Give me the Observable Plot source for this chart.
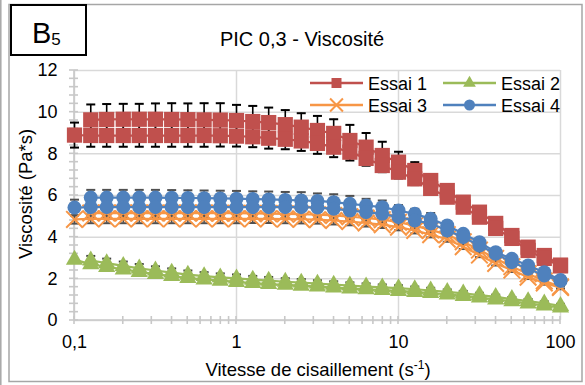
<!DOCTYPE html>
<html><head><meta charset="utf-8">
<script src="https://cdn.jsdelivr.net/npm/d3@7"></script>
<script src="https://cdn.jsdelivr.net/npm/@observablehq/plot@0.6"></script>
<style>
body{margin:0;background:#fff;}
#chart{width:585px;height:385px;}
svg text{font-family:"Liberation Sans",Arial,sans-serif;}
</style>
</head><body><div id="chart"></div>
<script>
// Shear rates (s^-1)
const shearRates = [0.1, 0.126, 0.158, 0.2, 0.251, 0.316, 0.398, 0.501, 0.631, 0.794, 1, 1.26, 1.58, 2, 2.51, 3.16, 3.98, 5.01, 6.31, 7.94, 10, 12.6, 15.8, 20, 25.1, 31.6, 39.8, 50.1, 63.1, 79.4, 100];

// Essai 1 (two interleaved rows)
const essai1Haut = [null, 9.63, 9.65, 9.66, 9.66, 9.66, 9.65, 9.64, 9.63, 9.62, 9.6, 9.55, 9.5, 9.4, 9.28, 9.12, 8.98, 8.64, 8.32, 7.92, 7.6, 7.2, 6.72, 6.24, 5.68, 5.2, 4.66, 4.08, 3.52, 3.12, 2.66];
const essai1Bas  = [8.9, 8.88, 8.88, 8.88, 8.88, 8.88, 8.88, 8.88, 8.88, 8.87, 8.85, 8.82, 8.75, 8.7, 8.62, 8.5, 8.32, 8.08, 7.78, 7.44, 7.12, 6.8, 6.34, 5.92, 5.44, 4.96, 4.42, 3.94, 3.36, 2.98, 2.62];
const err1Haut   = [0, 0.74, 0.74, 0.74, 0.74, 0.76, 0.78, 0.78, 0.8, 0.81, 0.75, 0.75, 0.72, 0.7, 0.67, 0.7, 0.68, 0.75, 0.68, 0.66, 0.5, 0.4, 0.3, 0.25, 0.22, 0.2, 0.18, 0.16, 0.14, 0.12, 0.1];
const err1Bas    = [0.6, 0.54, 0.54, 0.54, 0.54, 0.54, 0.54, 0.54, 0.54, 0.52, 0.5, 0.5, 0.5, 0.48, 0.48, 0.5, 0.48, 0.4, 0.35, 0.32, 0.3, 0.3, 0.28, 0.25, 0.2, 0.18, 0.16, 0.14, 0.12, 0.1, 0.1];

// Essai 2
const essai2Haut = [null, 2.88, 2.75, 2.62, 2.5, 2.4, 2.3, 2.2, 2.13, 2.07, 2.02, 1.96, 1.91, 1.86, 1.82, 1.77, 1.72, 1.68, 1.63, 1.59, 1.55, 1.5, 1.44, 1.37, 1.3, 1.22, 1.13, 1.03, 0.93, 0.82, 0.7];
const essai2Bas  = [2.92, 2.7, 2.57, 2.45, 2.33, 2.23, 2.13, 2.04, 1.97, 1.91, 1.85, 1.8, 1.75, 1.71, 1.67, 1.63, 1.58, 1.54, 1.5, 1.46, 1.42, 1.37, 1.32, 1.25, 1.18, 1.1, 1.01, 0.92, 0.82, 0.72, 0.62];
const err2       = [0.22, 0.22, 0.22, 0.21, 0.21, 0.2, 0.2, 0.2, 0.19, 0.19, 0.19, 0.18, 0.18, 0.17, 0.17, 0.16, 0.16, 0.15, 0.15, 0.14, 0.14, 0.13, 0.13, 0.12, 0.12, 0.11, 0.11, 0.1, 0.1, 0.1, 0.1];

// Essai 3
const essai3Haut = [null, 5.16, 5.16, 5.16, 5.16, 5.16, 5.16, 5.16, 5.16, 5.15, 5.15, 5.14, 5.13, 5.12, 5.1, 5.08, 5.04, 4.98, 4.92, 4.84, 4.72, 4.55, 4.35, 4.12, 3.78, 3.38, 2.98, 2.58, 2.24, 1.9, 1.62];
const essai3Bas  = [4.85, 4.88, 4.88, 4.88, 4.88, 4.88, 4.88, 4.88, 4.88, 4.88, 4.88, 4.88, 4.88, 4.87, 4.86, 4.84, 4.8, 4.75, 4.68, 4.6, 4.48, 4.32, 4.12, 3.9, 3.54, 3.14, 2.74, 2.42, 2.08, 1.8, 1.58];
const err3       = [0.2, 0.21, 0.21, 0.21, 0.21, 0.21, 0.21, 0.21, 0.21, 0.21, 0.21, 0.2, 0.2, 0.2, 0.2, 0.19, 0.19, 0.18, 0.17, 0.16, 0.15, 0.14, 0.13, 0.12, 0.11, 0.1, 0.1, 0.09, 0.09, 0.08, 0.08];

// Essai 4
const essai4Haut = [null, 5.9, 5.9, 5.9, 5.9, 5.9, 5.89, 5.88, 5.87, 5.86, 5.85, 5.83, 5.81, 5.79, 5.76, 5.74, 5.68, 5.6, 5.52, 5.44, 5.28, 5.12, 4.88, 4.56, 4.16, 3.76, 3.28, 2.96, 2.64, 2.32, 1.94];
const essai4Bas  = [5.42, 5.44, 5.44, 5.44, 5.44, 5.44, 5.44, 5.44, 5.44, 5.44, 5.44, 5.44, 5.44, 5.44, 5.44, 5.42, 5.36, 5.28, 5.2, 5.12, 4.96, 4.8, 4.66, 4.32, 4.0, 3.6, 3.2, 2.8, 2.48, 2.16, 1.9];
const err4       = [0.38, 0.37, 0.37, 0.37, 0.37, 0.37, 0.37, 0.37, 0.37, 0.37, 0.37, 0.37, 0.38, 0.38, 0.4, 0.36, 0.38, 0.38, 0.32, 0.32, 0.26, 0.24, 0.28, 0.2, 0.15, 0.12, 0.1, 0.1, 0.08, 0.08, 0.08];

const seriesNames = ["Essai 1", "Essai 2", "Essai 3", "Essai 4"];
const seriesColors = ["#C0504D", "#9BBB59", "#F79646", "#4F81BD"];
const errColors = ["#000000", "#404040", "#505050", "#505050"];

const xTicks = [0.1, 1, 10, 100];
const xTickLabels = ["0,1", "1", "10", "100"];
const xMinorTicks = [0.2,0.3,0.4,0.5,0.6,0.7,0.8,0.9,2,3,4,5,6,7,8,9,20,30,40,50,60,70,80,90];
const yTicks = [0, 2, 4, 6, 8, 10, 12];

const titleText = "PIC 0,3 - Viscosité";
const xTitle = "Vitesse de cisaillement (s";
const xTitleSup = "-1";
const yTitle = "Viscosité (Pa*s)";

function rows(name, ys, errs, row) {
  return shearRates.map((x, i) => ({series: name, row, x, y: ys[i], e: errs ? errs[i] : 0}))
    .filter(d => d.y != null);
}
const d1h = rows("Essai 1", essai1Haut, err1Haut, "h"), d1b = rows("Essai 1", essai1Bas, err1Bas, "b");
const d2h = rows("Essai 2", essai2Haut, err2, "h"), d2b = rows("Essai 2", essai2Bas, null, "b");
const d3h = rows("Essai 3", essai3Haut, err3, "h"), d3b = rows("Essai 3", essai3Bas, err3, "b");
const d4h = rows("Essai 4", essai4Haut, err4, "h"), d4b = rows("Essai 4", essai4Bas, err4, "b");
const groups = [[d1h, d1b], [d2h, d2b], [d3h, d3b], [d4h, d4b]];

const capSymbol = {draw(ctx) { ctx.moveTo(-4.5, 0); ctx.lineTo(4.5, 0); }};

const errMarks = [];
groups.forEach((g, k) => {
  g.forEach(d => {
    const de = d.filter(v => v.e > 0);
    errMarks.push(Plot.ruleX(de, {x: "x", y1: v => v.y - v.e, y2: v => v.y + v.e, stroke: errColors[k], strokeWidth: 1.6}));
    errMarks.push(Plot.dot(de, {x: "x", y: v => v.y + v.e, symbol: capSymbol, stroke: errColors[k], fill: "none", strokeWidth: 2, r: 2}));
    errMarks.push(Plot.dot(de, {x: "x", y: v => v.y - v.e, symbol: capSymbol, stroke: errColors[k], fill: "none", strokeWidth: 2, r: 2}));
  });
});

const markerSpec = [
  {symbol: "square", r: 8.6, fill: seriesColors[0]},
  {symbol: "triangle", r: 6.4, fill: seriesColors[1]},
  {symbol: "times", r: 7.6, stroke: seriesColors[2], strokeWidth: 2},
  {symbol: "circle", r: 7, fill: seriesColors[3]}
];

const seriesMarks = [];
groups.forEach((g, k) => {
  g.forEach(d => {
    seriesMarks.push(Plot.line(d, {x: "x", y: "y", stroke: seriesColors[k], strokeWidth: 2.25}));
  });
  g.forEach(d => {
    const m = markerSpec[k];
    seriesMarks.push(Plot.dot(d, {x: "x", y: "y", symbol: m.symbol, r: m.r,
      fill: m.fill || "none", stroke: m.stroke || "none", strokeWidth: m.strokeWidth || 0}));
  });
});

const plot = Plot.plot({
  width: 585, height: 385,
  marginLeft: 74, marginRight: 25, marginTop: 70, marginBottom: 65,
  style: {fontFamily: "Liberation Sans, Arial, sans-serif", fontSize: "18px", color: "#000", background: "#fff"},
  x: {type: "log", domain: [0.1, 100], label: null},
  y: {domain: [0, 12], label: null},
  marks: [
    Plot.gridY(yTicks, {stroke: "#d9d9d9", strokeOpacity: 1, strokeWidth: 1.5}),
    Plot.gridX(xTicks, {stroke: "#d9d9d9", strokeOpacity: 1, strokeWidth: 1.5}),
    Plot.axisY(yTicks, {tickSize: 0, tickPadding: 17, fontSize: 18, label: null, tickFormat: d => String(d)}),
    Plot.axisX(xTicks, {tickSize: 0, tickPadding: 15, fontSize: 18, label: null, tickFormat: d => xTickLabels[xTicks.indexOf(d)]}),
    ...errMarks,
    ...seriesMarks
  ]
});

document.getElementById("chart").appendChild(plot);

const svg = d3.select(plot);
const xs = plot.scale("x"), ys = plot.scale("y");
const X = v => xs.apply(v), Y = v => ys.apply(v);
const deco = svg.append("g");
const axisColor = "#c8c8c8";
// axes lines
deco.append("line").attr("x1", X(0.1)).attr("x2", X(100)).attr("y1", Y(0)).attr("y2", Y(0)).attr("stroke", axisColor).attr("stroke-width", 1.6);
deco.append("line").attr("x1", X(0.1)).attr("x2", X(0.1)).attr("y1", Y(0)).attr("y2", Y(12)).attr("stroke", axisColor).attr("stroke-width", 1.6);
// minor ticks
d3.range(0, 12.001, 0.4).forEach(v => {
  deco.append("line").attr("x1", X(0.1) - 5).attr("x2", X(0.1) + 4).attr("y1", Y(v)).attr("y2", Y(v)).attr("stroke", axisColor).attr("stroke-width", 1.6);
});
[...xTicks, ...xMinorTicks].forEach(v => {
  deco.append("line").attr("x1", X(v)).attr("x2", X(v)).attr("y1", Y(0) - 4).attr("y2", Y(0) + 4).attr("stroke", axisColor).attr("stroke-width", 1.6);
});
// bring data marks above the axis decorations
plot.appendChild(deco.node());
svg.selectAll("g[aria-label='line'], g[aria-label='dot'], g[aria-label='rule']").each(function() { plot.appendChild(this); });

const fontFam = "Liberation Sans, Arial, sans-serif";
// title
svg.append("text").attr("x", 302).attr("y", 46).attr("text-anchor", "middle").attr("font-size", 20).attr("font-family", fontFam).text(titleText);
// x title
const xt = svg.append("text").attr("x", 318).attr("y", 376).attr("text-anchor", "middle").attr("font-size", 18.5).attr("font-family", fontFam);
xt.append("tspan").text(xTitle);
xt.append("tspan").attr("font-size", 12).attr("dy", -7).text(xTitleSup);
xt.append("tspan").attr("dy", 7).text(")");
// y title
svg.append("text").attr("transform", "translate(32,194) rotate(-90)").attr("text-anchor", "middle").attr("font-size", 18.5).attr("font-family", fontFam).text(yTitle);

// legend
const legendPos = [[310, 83], [443, 83], [310, 105], [443, 105]];
const legendSym = [d3.symbolSquare, d3.symbolTriangle, d3.symbolTimes, d3.symbolCircle];
const legendSize = [100, 70, 110, 95];
seriesNames.forEach((name, k) => {
  const [lx, ly] = legendPos[k];
  const g = svg.append("g");
  g.append("line").attr("x1", lx).attr("x2", lx + 53).attr("y1", ly).attr("y2", ly).attr("stroke", seriesColors[k]).attr("stroke-width", 2.5);
  const p = g.append("path").attr("transform", `translate(${lx + 26.5},${ly})`).attr("d", d3.symbol(legendSym[k], legendSize[k])());
  if (k === 2) p.attr("fill", "none").attr("stroke", seriesColors[k]).attr("stroke-width", 2);
  else p.attr("fill", seriesColors[k]);
  g.append("text").attr("x", lx + 58).attr("y", ly + 6.5).attr("text-anchor", "start").attr("font-size", 18).attr("font-family", fontFam).text(name);
});

// frames
svg.append("line").attr("x1", 0.8).attr("x2", 0.8).attr("y1", 0).attr("y2", 385).attr("stroke", "#a6a6a6").attr("stroke-width", 1.5);
svg.append("rect").attr("x", 9).attr("y", 4.5).attr("width", 573).attr("height", 377).attr("fill", "none").attr("stroke", "#a6a6a6").attr("stroke-width", 1.5);
svg.append("rect").attr("x", 11).attr("y", 5).attr("width", 75).attr("height", 50).attr("fill", "#fff").attr("stroke", "#000").attr("stroke-width", 2);
const bt = svg.append("text").attr("x", 32).attr("y", 43).attr("text-anchor", "start").attr("font-size", 29).attr("font-family", fontFam);
bt.append("tspan").text("B");
bt.append("tspan").attr("font-size", 17).attr("dy", 2).text("5");
</script>
</body></html>
